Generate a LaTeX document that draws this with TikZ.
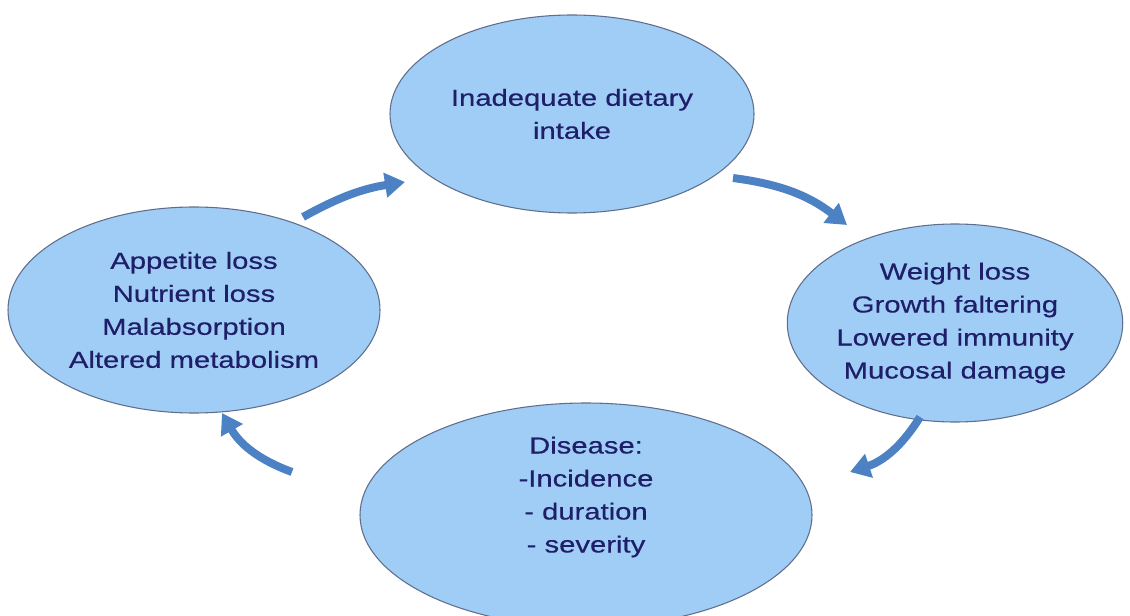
\documentclass[tikz,border=0pt]{standalone}
\usepackage{fontspec}
\setmainfont[FakeStretch=1.26,FakeBold=0.4]{Liberation Sans}
\usetikzlibrary{shapes.geometric,arrows.meta}
\definecolor{fillblue}{RGB}{160,205,245}
\definecolor{edgeblue}{RGB}{95,110,140}
\definecolor{txtnavy}{RGB}{30,30,105}
\definecolor{arrblue}{RGB}{76,130,195}
\tikzset{
  bubble/.style={ellipse, draw=edgeblue, line width=0.8pt, fill=fillblue, inner sep=0pt},
  lbl/.style={text=txtnavy, align=center, font=\fontsize{17.4}{24.75}\selectfont},
  cyc/.style={draw=arrblue, line width=6pt, -{Triangle[length=15pt,width=18pt]}, bend left=#1},
}
\begin{document}
\begin{tikzpicture}[x=0.75pt,y=0.75pt]
\clip (0,0) rectangle (1130,615);
\fill[white] (0,0) rectangle (1130,615);
\node[bubble, minimum width=273pt, minimum height=148.5pt, lbl] (top) at (572,501) {Inadequate dietary\\intake};
\node[bubble, minimum width=279pt, minimum height=154.5pt, lbl] (left) at (194,305) {Appetite loss\\Nutrient loss\\Malabsorption\\Altered metabolism};
\node[bubble, minimum width=250.5pt, minimum height=148.5pt, lbl] (right) at (955,292) {Weight loss\\Growth faltering\\Lowered immunity\\Mucosal damage};
\node[bubble, minimum width=339pt, minimum height=168pt] (bottom) at (586,100) {};
\node[lbl] (bottomtxt) at (586,118) {Disease:\\-Incidence\\- duration\\- severity};
\coordinate (a1s) at (303,398); \coordinate (a1e) at (405,433);
\coordinate (a2s) at (733,437); \coordinate (a2e) at (847,390);
\coordinate (a3s) at (920,198); \coordinate (a3e) at (850,143);
\coordinate (a4s) at (292,143); \coordinate (a4e) at (222,202);
\draw[cyc=10] (a1s) to (a1e);
\draw[cyc=15] (a2s) to (a2e);
\draw[cyc=20] (a3s) to (a3e);
\draw[cyc=20] (a4s) to (a4e);
\end{tikzpicture}
\end{document}
